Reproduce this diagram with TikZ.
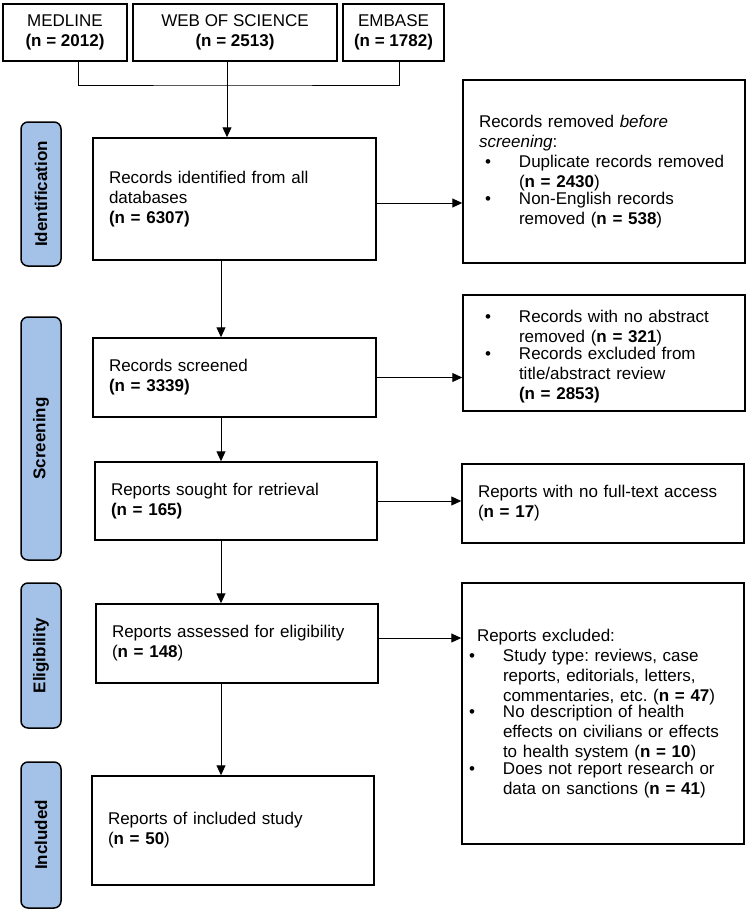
\documentclass[tikz,border=0pt]{standalone}
\usepackage{fontspec}
\setmainfont{Liberation Sans}
\usetikzlibrary{arrows.meta}
\definecolor{stageblue}{RGB}{164,194,232}
\frenchspacing
\newcommand{\bitem}[2][40bp]{\par\noindent\makebox[#1][l]{\hspace{\dimexpr#1-34bp\relax}\textbullet}%
  \parbox[t]{\dimexpr\linewidth-#1\relax}{\raggedright #2}\par}

\begin{document}
\begin{tikzpicture}[x=1bp, y=-1bp,
  font=\fontsize{17bp}{20bp}\selectfont,
  box/.style={draw, line width=1.5bp, inner xsep=16bp, align=left},
  src/.style={draw, line width=1.5bp, align=center, inner sep=2bp, minimum height=57bp},
  stage/.style={draw, line width=1.5bp, rounded corners=7bp, fill=stageblue, rotate=90,
    minimum height=40bp, font=\fontsize{17bp}{20bp}\selectfont\bfseries},
  arr/.style={-{Triangle[length=10bp,width=9bp]}, line width=1bp}]
  \useasboundingbox (0,0) rectangle (750,911);

  % databases
  \node [src, minimum width=124bp] (med) at (65,32.5) {MEDLINE\\\textbf{(n = 2012)}};
  \node [src, minimum width=204bp] (wos) at (235,32.5) {WEB OF SCIENCE\\\textbf{(n = 2513)}};
  \node [src, minimum width=101bp] (emb) at (393.5,32.5) {EMBASE\\\textbf{(n = 1782)}};

  % stages
  \node [stage, minimum width=144bp] (lid) at (41,194) {Identification};
  \node [stage, minimum width=243bp] (lscr) at (41,438.5) {Screening};
  \node [stage, minimum width=145bp] (lelig) at (41,655.5) {Eligibility};
  \node [stage, minimum width=146bp] (lincl) at (41,835) {Included};

  % main column
  \node [box, text width=251bp, minimum height=122bp] (ident) at (234.5,199)
    {Records identified from all\\databases\\\textbf{(n = 6307)}};
  \node [box, text width=251bp, minimum height=79bp] (screen) at (234.5,377.5)
    {Records screened\\\textbf{(n = 3339)}};
  \node [box, text width=250bp, minimum height=78bp] (sought) at (236,501)
    {Reports sought for retrieval\\\textbf{(n = 165)}};
  \node [box, text width=250bp, minimum height=79bp] (assessed) at (237,643.5)
    {Reports assessed for eligibility\\(\textbf{n = 148})};
  \node [box, text width=250bp, minimum height=109bp] (incl) at (233,830.5)
    {Reports of included study\\(\textbf{n = 50})};

  % exclusions
  \node [box, text width=250bp, minimum height=183bp] (removed) at (604,171.5)
    {Records removed \textit{before}\\\textit{screening}:
     \bitem{Duplicate records removed\\(\textbf{n = 2430})}
     \bitem{Non-English records\\removed (\textbf{n = 538})}};
  \node [box, text width=250bp, minimum height=116bp] (noabs) at (604,353)
    {\bitem{Records with no abstract\\removed (\textbf{n = 321})}
     \bitem{Records excluded from\\title/abstract review\\\textbf{(n = 2853)}}};
  \node [box, text width=250bp, minimum height=79bp] (nofull) at (603,503.5)
    {Reports with no full-text access\\(\textbf{n = 17})};
  \node [box, text width=252bp, inner xsep=15bp, minimum height=261bp] (excl) at (603,713.5)
    {Reports excluded:
     \bitem[26bp]{Study type: reviews, case\\reports, editorials, letters,\\commentaries, etc. (\textbf{n = 47})}
     \bitem[26bp]{No description of health\\effects on civilians or effects\\to health system (\textbf{n = 10})}
     \bitem[26bp]{Does not report research or\\data on sanctions (\textbf{n = 41})}};

  % connectors
  \coordinate (join) at (227,85);
  \coordinate (spine) at (221,0);
  \draw [line width=1bp] ([xshift=13bp]med.south) |- (join) -| ([xshift=5.5bp]emb.south);
  \draw [arr] (wos.south -| join) -- (ident.north -| join);
  \draw [arr] (ident.south -| spine) -- (screen.north -| spine);
  \draw [arr] (screen.south -| spine) -- (sought.north -| spine);
  \draw [arr] (sought.south -| spine) -- (assessed.north -| spine);
  \draw [arr] (assessed.south -| spine) -- (incl.north -| spine);
  \draw [arr] ([yshift=-4bp]ident.east) -- ([yshift=-4bp]ident.east -| removed.west);
  \draw [arr] (screen.east) -- (screen.east -| noabs.west);
  \draw [arr] (sought.east) -- (sought.east -| nofull.west);
  \draw [arr] ([yshift=5.5bp]assessed.east) -- ([yshift=5.5bp]assessed.east -| excl.west);
\end{tikzpicture}
\end{document}
